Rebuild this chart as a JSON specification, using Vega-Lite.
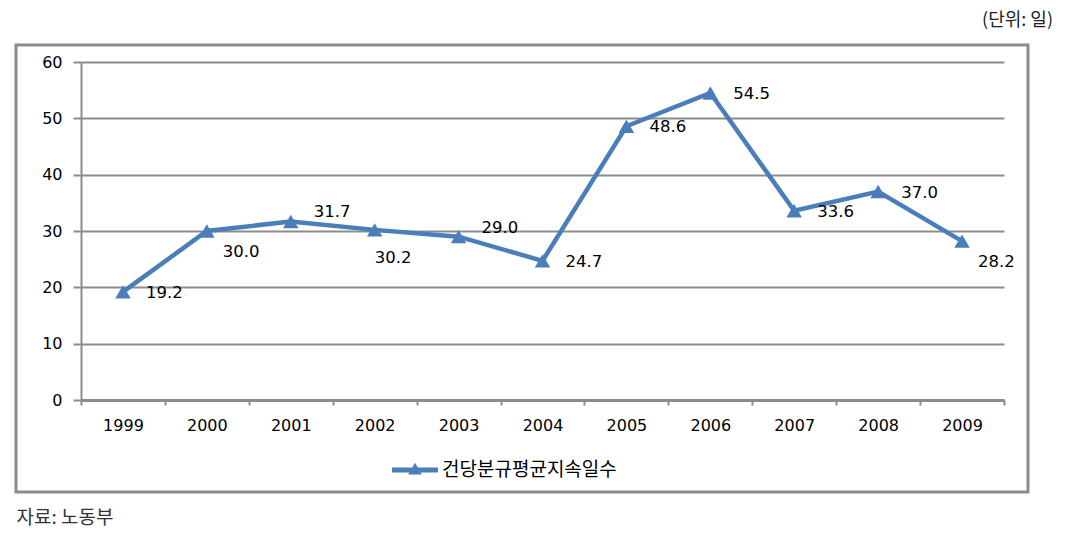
{
  "$schema": "https://vega.github.io/schema/vega-lite/v6.json",
  "width": 1012,
  "height": 447,
  "autosize": {"type": "none"},
  "padding": {"left": 16, "top": 45, "right": 40, "bottom": 44},
  "background": "white",
  "title": {"text": "(단위:  일)", "anchor": "end", "frame": "group", "dx": 25, "offset": 15, "font": "Noto Sans CJK KR", "fontSize": 18, "fontWeight": "normal", "color": "#222222"},
  "data": {"values": [
    {"year": "1999", "days": 19.2, "series": "건당분규평균지속일수"},
    {"year": "2000", "days": 30.0, "series": "건당분규평균지속일수"},
    {"year": "2001", "days": 31.7, "series": "건당분규평균지속일수"},
    {"year": "2002", "days": 30.2, "series": "건당분규평균지속일수"},
    {"year": "2003", "days": 29.0, "series": "건당분규평균지속일수"},
    {"year": "2004", "days": 24.7, "series": "건당분규평균지속일수"},
    {"year": "2005", "days": 48.6, "series": "건당분규평균지속일수"},
    {"year": "2006", "days": 54.5, "series": "건당분규평균지속일수"},
    {"year": "2007", "days": 33.6, "series": "건당분규평균지속일수"},
    {"year": "2008", "days": 37.0, "series": "건당분규평균지속일수"},
    {"year": "2009", "days": 28.2, "series": "건당분규평균지속일수"}
  ]},
  "encoding": {
    "x": {
      "field": "year", "type": "ordinal",
      "scale": {"type": "band", "range": [65, 988], "paddingInner": 0, "paddingOuter": 0},
      "axis": {
        "title": "자료:  노동부", "titleX": 0, "titleY": 117, "titleAlign": "left", "titleBaseline": "middle",
        "titleFont": "Noto Sans CJK KR", "titleFontSize": 19, "titleFontWeight": "normal", "titleColor": "#333333",
        "offset": -92, "labelAngle": 0, "labelFont": "DejaVu Sans", "labelFontSize": 16, "labelColor": "#000000",
        "labelPadding": 12, "tickBand": "extent", "tickSize": 5, "tickWidth": 2, "tickColor": "#8c8c8c",
        "domainColor": "#8c8c8c", "domainWidth": 3, "grid": false
      }
    },
    "y": {
      "field": "days", "type": "quantitative",
      "scale": {"domain": [0, 60], "range": [355, 17], "nice": false, "zero": true},
      "axis": {
        "title": null, "offset": -65, "values": [0, 10, 20, 30, 40, 50, 60],
        "labelFont": "DejaVu Sans", "labelFontSize": 16, "labelColor": "#000000", "labelPadding": 11,
        "tickSize": 8, "tickWidth": 2, "tickColor": "#8c8c8c",
        "domainColor": "#8c8c8c", "domainWidth": 2,
        "grid": true, "gridColor": "#8c8c8c", "gridWidth": 2
      }
    }
  },
  "layer": [
    {"mark": {"type": "line", "color": "#4a7ebb", "strokeWidth": 4.5}},
    {
      "mark": {"type": "point", "shape": "triangle-up", "filled": true, "size": 240, "opacity": 1},
      "encoding": {
        "color": {
          "field": "series", "type": "nominal",
          "scale": {"range": ["#4a7ebb"]},
          "legend": {
            "orient": "none", "legendX": 376, "legendY": 402, "title": null, "padding": 0,
            "symbolType": "M-1,-0.11 L-0.121,-0.11 L0,-0.32 L0.121,-0.11 L1,-0.11 L1,0.11 L0.248,0.11 L0.3,0.2 L-0.3,0.2 L-0.248,0.11 L-1,0.11 Z",
            "symbolSize": 2116, "symbolStrokeWidth": 0,
            "labelFont": "Noto Sans CJK KR", "labelFontSize": 19, "labelColor": "#000000", "labelOffset": 4, "labelLimit": 400
          }
        }
      }
    },
    {
      "transform": [{"filter": {"field": "year", "oneOf": ["1999", "2004", "2005", "2006", "2007", "2008"]}}],
      "mark": {"type": "text", "align": "left", "baseline": "middle", "dx": 23, "dy": 1, "font": "DejaVu Sans", "fontSize": 16.5, "color": "#000000"},
      "encoding": {"text": {"field": "days", "type": "quantitative", "format": ".1f"}}
    },
    {
      "transform": [{"filter": {"field": "year", "oneOf": ["2001", "2003"]}}],
      "mark": {"type": "text", "align": "left", "baseline": "middle", "dx": 23, "dy": -9, "font": "DejaVu Sans", "fontSize": 16.5, "color": "#000000"},
      "encoding": {"text": {"field": "days", "type": "quantitative", "format": ".1f"}}
    },
    {
      "transform": [{"filter": {"field": "year", "oneOf": ["2000", "2009"]}}],
      "mark": {"type": "text", "align": "left", "baseline": "middle", "dx": 16, "dy": 21, "font": "DejaVu Sans", "fontSize": 16.5, "color": "#000000"},
      "encoding": {"text": {"field": "days", "type": "quantitative", "format": ".1f"}}
    },
    {
      "transform": [{"filter": {"field": "year", "oneOf": ["2002"]}}],
      "mark": {"type": "text", "align": "left", "baseline": "middle", "dx": 0, "dy": 28, "font": "DejaVu Sans", "fontSize": 16.5, "color": "#000000"},
      "encoding": {"text": {"field": "days", "type": "quantitative", "format": ".1f"}}
    }
  ],
  "config": {
    "view": {"stroke": "#8c8c8c", "strokeWidth": 3},
    "font": "DejaVu Sans"
  }
}
